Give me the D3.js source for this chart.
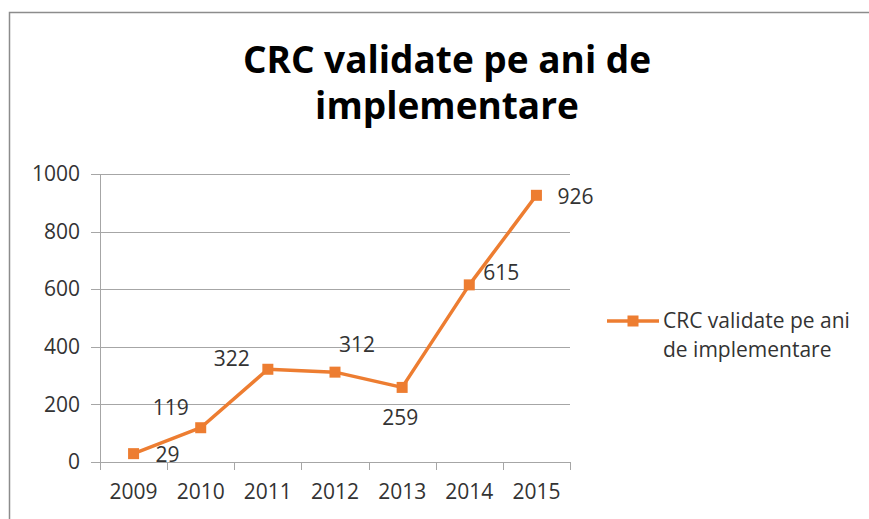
<!DOCTYPE html>
<html>
<head>
<meta charset="utf-8">
<script src="https://cdn.jsdelivr.net/npm/d3@7"></script>
<style>
  body { margin: 0; background: #fff; }
  text { font-family: "Open Sans", sans-serif; fill: #333; }
</style>
</head>
<body>
<script>
//////////////// Daten ////////////////////
var years = ["2009", "2010", "2011", "2012", "2013", "2014", "2015"];
var values = [29, 119, 322, 312, 259, 615, 926];
var yTicks = [0, 200, 400, 600, 800, 1000];
var titleLines = ["CRC validate pe ani de", "implementare"];
var legendLines = ["CRC validate pe ani", "de implementare"];

// Verschiebung der Beschriftungen (wie im Original von Hand gesetzt)
var labelShift = [[34, 1], [-30, -20], [-36, -11], [22, -27], [-2, 30], [32, -12], [39, 1]];

//////////////// Variablen ////////////////////
var W = 869, H = 519;
var plot = {left: 100, right: 570, top: 174, bottom: 462};
var orange = "#ED7D31";

var svg = d3.select("body")
  .append("svg")
  .attr("width", W)
  .attr("height", H);

// Rahmen (nur links und oben sichtbar)
svg.append("path")
  .attr("d", "M9.5," + H + "V12.5H" + W)
  .attr("fill", "none")
  .attr("stroke", "#8c8c8c")
  .attr("stroke-width", 1.5);

//////////////// Titel ////////////////////
svg.selectAll("text.title")
  .data(titleLines)
  .enter()
  .append("text")
  .attr("class", "title")
  .attr("x", 447)
  .attr("y", function(d, i){ return 73 + i * 46; })
  .attr("text-anchor", "middle")
  .style("font-size", "37px")
  .style("font-weight", "bold")
  .style("fill", "#000")
  .text(function(d){ return d; });

////////////////// Skalen ////////////
var x = d3.scaleBand()
  .domain(years)
  .range([plot.left, plot.right]);
var y = d3.scaleLinear()
  .domain([0, 1000])
  .range([plot.bottom, plot.top]);

//////////// Gitter + Achsen /////////////
svg.selectAll("line.grid")
  .data(yTicks)
  .enter()
  .append("line")
  .attr("class", "grid")
  .attr("x1", plot.left - 9)
  .attr("x2", plot.right)
  .attr("y1", function(d){ return Math.round(y(d)) + 0.5; })
  .attr("y2", function(d){ return Math.round(y(d)) + 0.5; })
  .attr("stroke", "#a6a6a6")
  .attr("stroke-width", 1);

svg.append("line")
  .attr("x1", plot.left + 0.5).attr("x2", plot.left + 0.5)
  .attr("y1", plot.top).attr("y2", plot.bottom + 8)
  .attr("stroke", "#a6a6a6");

// Striche an den Grenzen der Kategorien
var bounds = years.map(function(d){ return x(d); }).concat([plot.right]);
svg.selectAll("line.xtick")
  .data(bounds.slice(1))
  .enter()
  .append("line")
  .attr("class", "xtick")
  .attr("x1", function(d){ return Math.round(d) + 0.5; })
  .attr("x2", function(d){ return Math.round(d) + 0.5; })
  .attr("y1", plot.bottom)
  .attr("y2", plot.bottom + 8)
  .attr("stroke", "#a6a6a6");

var yAxis = d3.axisLeft(y).tickValues(yTicks).tickFormat(d3.format("d")).tickSize(0).tickPadding(20);
var gy = svg.append("g")
  .attr("transform", "translate(" + plot.left + ",0)")
  .call(yAxis);
gy.select(".domain").remove();
gy.selectAll("text")
  .style("font-size", "21px")
  .style("font-family", "Open Sans, sans-serif")
  .attr("fill", "#333");

var xAxis = d3.axisBottom(x).tickSize(0).tickPadding(22);
var gx = svg.append("g")
  .attr("transform", "translate(0," + plot.bottom + ")")
  .call(xAxis);
gx.select(".domain").remove();
gx.selectAll("text")
  .style("font-size", "21px")
  .style("font-family", "Open Sans, sans-serif")
  .attr("fill", "#333");

///////////// Linie /////////////
var line = d3.line()
  .x(function(d, i){ return x(years[i]) + x.bandwidth() / 2; })
  .y(function(d){ return y(d); });

svg.append("path")
  .datum(values)
  .attr("d", line)
  .attr("fill", "none")
  .attr("stroke", orange)
  .attr("stroke-width", 3.5)
  .style("stroke-linejoin", "round");

//////////////// Marker ///////////////
var ms = 11;
svg.selectAll("rect.marker")
  .data(values)
  .enter()
  .append("rect")
  .attr("class", "marker")
  .attr("x", function(d, i){ return x(years[i]) + x.bandwidth() / 2 - ms / 2; })
  .attr("y", function(d){ return y(d) - ms / 2; })
  .attr("width", ms)
  .attr("height", ms)
  .attr("fill", orange);

//////////////// Beschriftung ///////////////
svg.selectAll("text.label")
  .data(values)
  .enter()
  .append("text")
  .attr("class", "label")
  .attr("x", function(d, i){ return x(years[i]) + x.bandwidth() / 2 + labelShift[i][0]; })
  .attr("y", function(d, i){ return y(d) + labelShift[i][1]; })
  .attr("dy", "0.35em")
  .attr("text-anchor", "middle")
  .style("font-size", "21px")
  .text(function(d){ return d; });

//////////////// Legende ///////////////
var leg = svg.append("g").attr("transform", "translate(607,321)");
leg.append("line")
  .attr("x1", 0).attr("x2", 52)
  .attr("y1", 0).attr("y2", 0)
  .attr("stroke", orange)
  .attr("stroke-width", 3.5);
leg.append("rect")
  .attr("x", 26 - ms / 2).attr("y", -ms / 2)
  .attr("width", ms).attr("height", ms)
  .attr("fill", orange);
leg.selectAll("text")
  .data(legendLines)
  .enter()
  .append("text")
  .attr("x", 56)
  .attr("y", function(d, i){ return 7 + i * 29; })
  .style("font-size", "21px")
  .text(function(d){ return d; });
</script>
</body>
</html>
